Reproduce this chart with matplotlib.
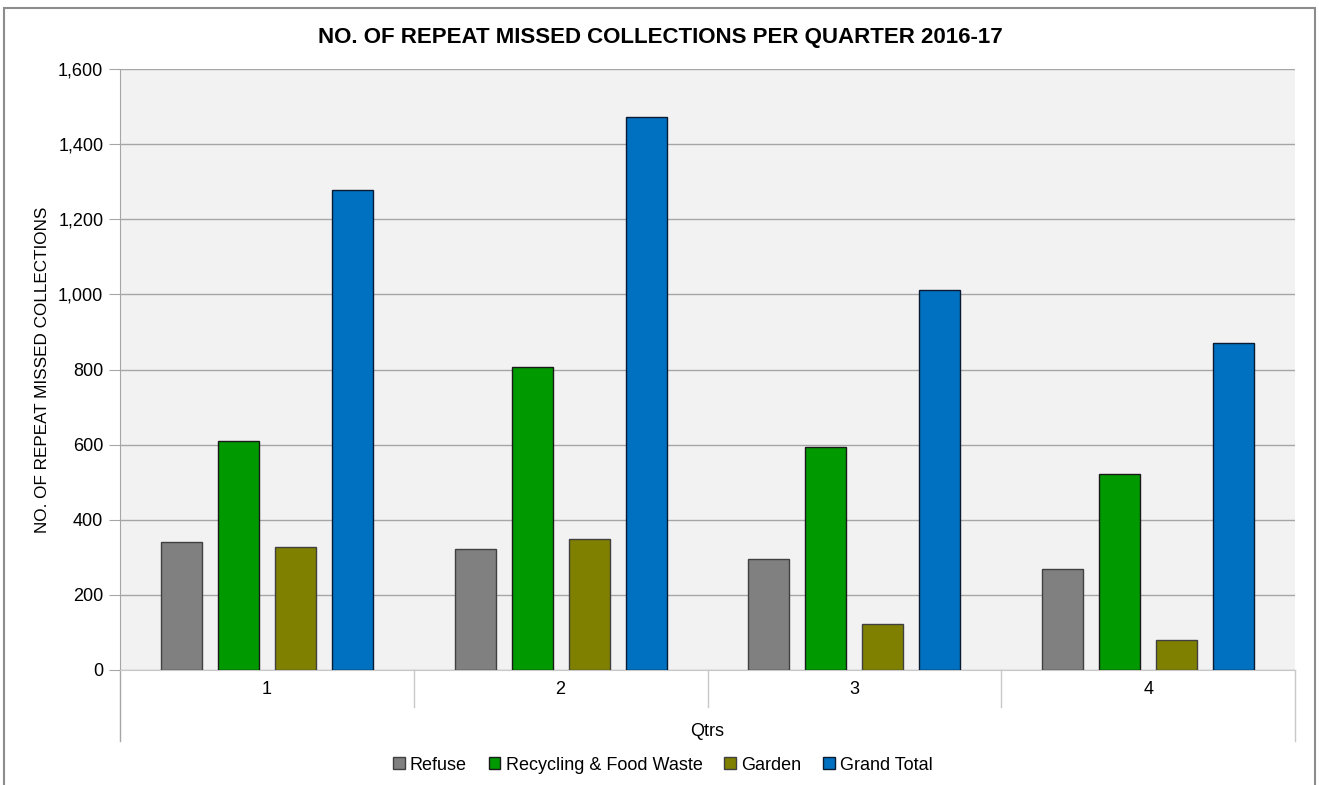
import matplotlib
matplotlib.use("Agg")
import matplotlib.pyplot as plt
import numpy as np
from matplotlib.patches import Rectangle
from matplotlib.lines import Line2D
import matplotlib.transforms as mtrans
from matplotlib.ticker import FuncFormatter

quarters = ["1", "2", "3", "4"]
series = ["Refuse", "Recycling & Food Waste", "Garden", "Grand Total"]
refuse = [341, 322, 296, 269]
recycling = [610, 806, 594, 522]
garden = [327, 349, 122, 80]
grand_total = [1278, 1472, 1012, 871]
values = [refuse, recycling, garden, grand_total]
colors = ["#808080", "#009900", "#808000", "#0070C0"]
edges = ["#404040", "#1a1a1a", "#404040", "#0a1a30"]
yticks = [0, 200, 400, 600, 800, 1000, 1200, 1400, 1600]

FONT = ["Liberation Sans Narrow", "Liberation Sans", "DejaVu Sans"]
plt.rcParams["font.family"] = FONT

fig = plt.figure(figsize=(13.19, 7.85), dpi=100)
ax = fig.add_axes([120/1319, 1 - 670/785, (1295-120)/1319, (670-69)/785])
ax.set_facecolor("#F2F2F2")

x = np.arange(len(quarters))
step = 0.194
width = 0.14
offsets = (np.arange(len(series)) - 1.5) * step
handles = []
for i, (name, vals) in enumerate(zip(series, values)):
    b = ax.bar(x + offsets[i], vals, width, color=colors[i], edgecolor=edges[i],
               linewidth=1.0, label=name, zorder=3)
    handles.append(b)

ax.set_xlim(-0.5, 3.5)
ax.set_ylim(0, 1600)
ax.set_yticks(yticks)
ax.yaxis.set_major_formatter(FuncFormatter(lambda v, p: f"{int(v):,}"))
ax.grid(axis="y", color="#A6A6A6", linewidth=1.0, zorder=0)
ax.set_axisbelow(True)
for s in ["top", "right"]:
    ax.spines[s].set_visible(False)
ax.spines["left"].set_color("#A6A6A6")
ax.spines["bottom"].set_color("#C8C8C8")
ax.tick_params(axis="y", length=8, color="#A6A6A6", labelsize=13, pad=4)
ax.tick_params(axis="x", length=0, labelsize=13, pad=8)
ax.set_xticks(x)
ax.set_xticklabels(quarters)

trans = mtrans.blended_transform_factory(ax.transData, ax.transAxes)
for b in [0.5, 1.5, 2.5]:
    ax.add_line(Line2D([b, b], [0, -37/601], transform=trans, color="#C8C8C8",
                       linewidth=1.0, clip_on=False))
ax.add_line(Line2D([-0.5, -0.5], [0, -71/601], transform=trans, color="#A6A6A6",
                   linewidth=1.0, clip_on=False))
ax.add_line(Line2D([3.5, 3.5], [0, -71/601], transform=trans, color="#C8C8C8",
                   linewidth=1.0, clip_on=False))

ax.set_ylabel("NO. OF REPEAT MISSED COLLECTIONS", fontsize=12.3, labelpad=6)
fig.text((120+1295)/2/1319, 1 - 731/785, "Qtrs", ha="center", va="center", fontsize=13)
fig.text(660/1319, 1 - 38/785, "NO. OF REPEAT MISSED COLLECTIONS PER QUARTER 2016-17",
         ha="center", va="center", fontsize=16, fontweight="bold")

leg = fig.legend(handles=handles, labels=series, loc="center",
                 bbox_to_anchor=(663/1319, 1 - 765/785), ncol=4, frameon=False,
                 fontsize=13, handlelength=0.65, handleheight=0.65, handletextpad=0.3,
                 columnspacing=1.2)

fig.patches.append(Rectangle((4/1319, -0.01), (1315-4)/1319, 1 - 8/785 + 0.01,
                             transform=fig.transFigure, fill=False,
                             edgecolor="#8C8C8C", linewidth=1.5))

fig.savefig("out.png", dpi=100, facecolor="white")
